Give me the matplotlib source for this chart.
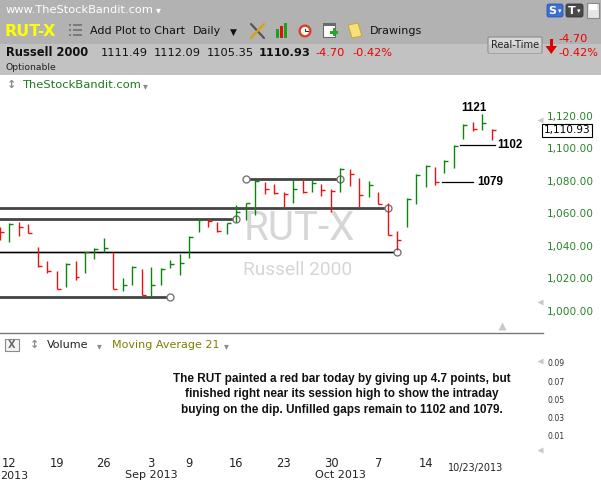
import numpy as np
import pandas as pd
import matplotlib
matplotlib.use("Agg")
import matplotlib.pyplot as plt
from matplotlib.patches import Rectangle, Polygon, Circle, FancyBboxPatch

plt.rcParams['font.family'] = ['DejaVu Sans']

# ---------------- data ----------------
trade_dates = pd.bdate_range("2013-08-09", "2013-10-23")
trade_dates = trade_dates[trade_dates != pd.Timestamp("2013-09-02")]  # Labor Day

highs = [1051.7, 1053.8, 1054.8, 1053.2, 1039.4, 1030.6, 1024.4, 1029.2, 1030.6, 1036.3,
         1038.4, 1044.6, 1035.9, 1020.0, 1027.5, 1025.5, 1026.7, 1026.1, 1031.2, 1034.9,
         1046.0, 1056.2, 1056.2, 1054.8, 1054.2, 1065.0, 1066.5, 1080.4, 1079.4, 1078.0,
         1072.9, 1080.9, 1080.9, 1080.9, 1078.0, 1074.7, 1087.6, 1087.0, 1081.5, 1080.0,
         1073.2, 1066.1, 1049.2, 1069.2, 1084.1, 1089.5, 1088.2, 1092.7, 1102.0, 1114.9,
         1116.3, 1121.0, 1112.09]
lows = [1043.5, 1042.5, 1046.0, 1047.6, 1027.1, 1023.4, 1013.2, 1014.4, 1018.9, 1023.4,
        1031.8, 1036.3, 1013.2, 1012.3, 1015.8, 1009.7, 1008.6, 1015.8, 1026.1, 1022.0,
        1032.2, 1048.6, 1051.7, 1048.6, 1047.2, 1054.8, 1055.8, 1058.9, 1071.8, 1071.6,
        1063.6, 1066.5, 1072.2, 1072.9, 1070.6, 1060.9, 1072.9, 1076.7, 1064.0, 1069.8,
        1065.7, 1046.6, 1037.4, 1051.7, 1065.7, 1076.3, 1077.4, 1084.6, 1087.6, 1105.5,
        1110.8, 1111.2, 1105.35]
closes = [1048.4, 1053.6, 1051.7, 1047.8, 1027.3, 1024.4, 1013.4, 1028.7, 1020.9, 1036.0,
          1037.8, 1038.4, 1013.4, 1015.8, 1027.1, 1009.9, 1015.8, 1025.7, 1028.6, 1029.2,
          1045.5, 1055.8, 1055.4, 1048.8, 1053.8, 1060.7, 1066.1, 1080.0, 1074.7, 1072.2,
          1071.8, 1074.7, 1072.9, 1078.4, 1074.0, 1073.6, 1087.2, 1084.1, 1071.2, 1077.4,
          1065.8, 1046.8, 1043.5, 1068.9, 1083.7, 1089.0, 1079.4, 1092.1, 1101.5, 1114.3,
          1111.6, 1115.63, 1110.93]

# drawn support / resistance lines (level, start date or None = chart edge, end date, heavy?)
line_levels = [1063.2, 1056.4, 1036.2, 1008.2, 1080.9]
line_starts = [None, None, None, None, "2013-09-17"]
line_ends = ["2013-10-08", "2013-09-16", "2013-10-09", "2013-09-05", "2013-10-01"]
line_heavy = [True, True, False, True, True]

# unfilled gap lines (level, from bar position, to bar position)
gap_levels = [1079, 1102]
gap_from = [46.74, 48.6]
gap_to = [50.02, 52.3]
gap_label_pos = [50.47, 52.63]
peak_label = "1121"
peak_pos, peak_val = 50.12, 1124.7

price_ticks = [1000, 1020, 1040, 1060, 1080, 1100, 1120]
vol_ticks = [0.01, 0.03, 0.05, 0.07, 0.09]
last_price = 1110.93

note_lines = ["The RUT painted a red bar today by giving up 4.7 points, but",
              "finished right near its session high to show the intraday",
              "buying on the dip. Unfilled gaps remain to 1102 and 1079."]

# ---------------- figure ----------------
W, H = 601, 482
fig = plt.figure(figsize=(W / 100, H / 100), dpi=100)


def frac(x0, y0, x1, y1):
    return [x0 / W, 1 - y1 / H, (x1 - x0) / W, (y1 - y0) / H]


bg = fig.add_axes([0, 0, 1, 1])
bg.set_xlim(0, W)
bg.set_ylim(H, 0)
bg.axis('off')

GREEN = '#0a870a'
RED = '#ee1111'

# ----- header -----
bg.add_patch(Rectangle((0, 0), W, 44, color='#b2b2b2', lw=0))
bg.add_patch(Rectangle((0, 44), W, 31, color='#c2c2c2', lw=0))
bg.text(6, 10, 'www.TheStockBandit.com', color='white', fontsize=8.2, va='center')
bg.text(158, 10.5, '▾', color='white', fontsize=7, va='center', ha='center')
bg.text(5, 31, 'RUT-X', color='#ffff00', fontsize=11.4, fontweight='bold', va='center')
for yy in (25, 30, 35):
    bg.add_patch(Rectangle((69, yy - 1), 2, 2, color='#7a7a7a', lw=0))
    bg.add_patch(Rectangle((73, yy - 1), 9, 2, color='#7a7a7a', lw=0))
bg.text(90, 31, 'Add Plot to Chart', fontsize=8, va='center', color='#111111')
bg.text(193, 31, 'Daily', fontsize=8, va='center', color='#111111')
bg.text(233, 32, '▼', fontsize=6.5, va='center', ha='center', color='#111111')
# tools icon
bg.plot([251, 264], [24, 38], color='#555555', lw=1.6, solid_capstyle='round')
bg.plot([251, 264], [38, 24], color='#d9a400', lw=1.6, solid_capstyle='round')
# bar-chart icon
bg.add_patch(Rectangle((276, 29), 3, 9, color='#1aa31a', lw=0))
bg.add_patch(Rectangle((280, 26), 3, 12, color='#dd1111', lw=0))
bg.add_patch(Rectangle((284, 23), 3, 15, color='#1aa31a', lw=0))
# clock icon
bg.add_patch(Circle((305, 31), 6.5, color='#e23a1a', lw=0))
bg.add_patch(Circle((305, 31), 4.2, color='white', lw=0))
bg.plot([305, 305, 307.5], [28.5, 31, 31], color='#333333', lw=0.8)
# calendar icon
bg.add_patch(Rectangle((323, 23), 12, 14, fc='white', ec='#6a6a6a', lw=0.8))
bg.add_patch(Rectangle((323, 23), 12, 3, color='#6a6a6a', lw=0))
bg.add_patch(Rectangle((330, 31), 8, 2.5, color='#22aa22', lw=0))
bg.add_patch(Rectangle((332.8, 28.2), 2.5, 8, color='#22aa22', lw=0))
# notepad icon
bg.add_patch(Polygon([[348, 25], [358, 23], [362, 36], [352, 38]], closed=True,
                     fc='#f5e07a', ec='#c9a93a', lw=0.8))
bg.text(370, 31, 'Drawings', fontsize=8, va='center', color='#111111')
# right-hand header widgets
bg.add_patch(FancyBboxPatch((547, 4), 16, 13, boxstyle='round,pad=0,rounding_size=2',
                            fc='#3a6fd6', ec='#2a55aa', lw=0.6))
bg.text(552.5, 10.7, 'S', color='white', fontsize=8, fontweight='bold', va='center', ha='center')
bg.text(559.5, 11.5, '▾', color='white', fontsize=5, va='center', ha='center')
bg.add_patch(FancyBboxPatch((566, 4), 17, 13, boxstyle='round,pad=0,rounding_size=2',
                            fc='#4a4a4a', ec='#333333', lw=0.6))
bg.text(572, 10.7, 'T', color='white', fontsize=8, fontweight='bold', va='center', ha='center')
bg.text(579, 11.5, '▾', color='white', fontsize=5, va='center', ha='center')
bg.add_patch(Rectangle((587, 3), 12, 15, fc='#e6e6e6', ec='#8a8a8a', lw=0.8))
bg.add_patch(Rectangle((589, 4), 8, 6, fc='white', ec='none'))

bg.text(6, 52, 'Russell 2000', fontsize=8.3, fontweight='bold', va='center', color='#111111')
bg.text(101, 52.5, '1111.49', fontsize=8.2, va='center', color='#111111')
bg.text(154, 52.5, '1112.09', fontsize=8.2, va='center', color='#111111')
bg.text(206.5, 52.5, '1105.35', fontsize=8.2, va='center', color='#111111')
bg.text(258.5, 52.5, '1110.93', fontsize=8.2, fontweight='bold', va='center', color='#111111')
bg.text(315, 52.5, '-4.70', fontsize=8.2, va='center', color='#ee0000')
bg.text(352, 52.5, '-0.42%', fontsize=8.2, va='center', color='#ee0000')
bg.add_patch(FancyBboxPatch((488, 37), 54, 16, boxstyle='round,pad=0,rounding_size=1.5',
                            fc='#d8d8d8', ec='#8c8c8c', lw=0.8))
bg.add_patch(Rectangle((489, 45), 52, 7.5, fc='#c6c6c6', ec='none'))
bg.text(515, 45, 'Real-Time', fontsize=7.1, va='center', ha='center', color='#222222')
bg.add_patch(Rectangle((549.5, 39), 3.5, 8, color='#dd0000', lw=0))
bg.add_patch(Polygon([[545.5, 46], [557, 46], [551.2, 54]], closed=True, color='#dd0000', lw=0))
bg.text(558.5, 39, '-4.70', fontsize=8.2, va='center', color='#ee0000')
bg.text(558.5, 52.7, '-0.42%', fontsize=8.2, va='center', color='#ee0000')
bg.text(6, 67.5, 'Optionable', fontsize=6.7, va='center', color='#222222')

# ----- main panel chrome -----
bg.text(12, 85, '↕', fontsize=8, va='center', ha='center', color='#8a8a8a', fontweight='bold')
bg.text(23, 85, 'TheStockBandit.com', fontsize=8.25, va='center', color='#1e7b1e')
bg.text(145, 86, '▾', fontsize=7, va='center', ha='center', color='#8a8a8a')
bg.plot([0, 542.7], [333.3, 333.3], color='#777777', lw=1)
for ty in (120, 301.7, 360.7, 450):
    bg.plot(540, ty, marker='<', ms=5, color='#c8c8c8', mec='none')
bg.plot(502, 326, marker='^', ms=5.5, color='#c8c8c8', mec='none')

# volume header
bg.add_patch(Rectangle((5, 339), 14, 12, fc='#f4f4f4', ec='#8a8a8a', lw=0.8))
bg.text(12, 345.3, 'X', fontsize=7, fontweight='bold', va='center', ha='center', color='#6a6a6a')
bg.text(35, 345, '↕', fontsize=8, va='center', ha='center', color='#8a8a8a', fontweight='bold')
bg.text(47, 345, 'Volume', fontsize=8, va='center', color='#222222')
bg.text(99, 346, '▾', fontsize=7, va='center', ha='center', color='#8a8a8a')
bg.text(112, 345, 'Moving Average 21', fontsize=8, va='center', color='#7d7d00')
bg.text(226, 346, '▾', fontsize=7, va='center', ha='center', color='#8a8a8a')

for i, line in enumerate(note_lines):
    bg.text(342, 379 + 15.5 * i, line, ha='center', va='center', fontsize=8.5,
            fontweight='bold', family=['Liberation Sans Narrow', 'Liberation Sans'],
            color='#111111')

bg.text(476, 468.3, '10/23/2013', fontsize=6.9, ha='center', va='center', color='#222222')
bg.text(0.5, 475.7, '2013', fontsize=8, ha='left', va='center', color='#222222')

# ----- price panel -----
x = np.arange(len(closes))
c = np.asarray(closes)
prev = np.r_[np.nan, c[:-1]]
up = c > prev
bar_colors = np.where(up, GREEN, RED)

ax = fig.add_axes(frac(0, 95, 542, 333))
ax.patch.set_alpha(0)
ax.set_xlim(0.017, 57.31)
ax.set_ylim(986.28, 1132.74)
for s in ax.spines.values():
    s.set_visible(False)

ax.text(0.553, 0.441, 'RUT-X', transform=ax.transAxes, fontsize=29, family='Roboto',
        color='#d6d6d6', ha='center', va='center', zorder=0)
ax.text(0.549, 0.265, 'Russell 2000', transform=ax.transAxes, fontsize=13.7, family='Roboto',
        color='#d6d6d6', ha='center', va='center', zorder=0)

for lvl, st, en, heavy in zip(line_levels, line_starts, line_ends, line_heavy):
    x1 = trade_dates.get_loc(pd.Timestamp(en))
    x0 = -1 if st is None else trade_dates.get_loc(pd.Timestamp(st))
    if heavy:
        ax.plot([x0, x1], [lvl, lvl], color='#444444', lw=2.0, zorder=3, solid_capstyle='butt')
    else:
        ax.plot([x0, x1], [lvl, lvl], color='#b4b4b4', lw=1.8, zorder=2.5)
        ax.plot([x0, x1], [lvl, lvl], color='#000000', lw=0.9, zorder=3)
    ends = [x1] if st is None else [x0, x1]
    ax.plot(ends, [lvl] * len(ends), 'o', ms=5, mfc='white', mec='#777777', mew=1.0, zorder=4)

ax.vlines(x, lows, highs, colors=bar_colors, lw=1.0, zorder=5)
ax.hlines(closes, x, x + 0.42, colors=bar_colors, lw=1.0, zorder=5)

for lvl, a, b, lp in zip(gap_levels, gap_from, gap_to, gap_label_pos):
    ax.plot([a, b], [lvl, lvl], color='black', lw=0.9, zorder=3)
    ax.text(lp, lvl, str(lvl), fontsize=8.4, fontweight='bold', family='Liberation Sans',
            va='center', ha='left', color='black')
ax.text(peak_pos, peak_val, peak_label, fontsize=8.4, fontweight='bold', family='Liberation Sans',
        va='center', ha='center', color='black')

ax.set_xticks([])
ax.yaxis.tick_right()
ax.set_yticks(price_ticks)
ax.set_yticklabels([f'{v:,.2f}' for v in price_ticks])
ax.tick_params(axis='y', length=0, pad=3.5, labelsize=7.6, labelcolor='#2a862a')
ax.text(1.0 + 2 / 542, last_price, f'{last_price:,.2f}', transform=ax.get_yaxis_transform(),
        fontsize=7.6, color='black', va='center', ha='left',
        bbox=dict(boxstyle='square,pad=0.15', fc='white', ec='black', lw=0.8))

# ----- volume panel -----
vol = fig.add_axes(frac(0, 340, 542, 455))
vol.patch.set_alpha(0)
vol.set_xlim(ax.get_xlim())
vol.set_ylim(-0.0108, 0.1149)
for s in vol.spines.values():
    s.set_visible(False)
vol.xaxis.remove_overlapping_locs = False
wk = trade_dates.isocalendar().week.values
week_start = [i for i in range(1, len(trade_dates) - 5) if wk[i] != wk[i - 1]]
mon = trade_dates.month.values
month_start = [i for i in range(1, len(trade_dates)) if mon[i] != mon[i - 1]]
vol.set_xticks(week_start)
vol.set_xticklabels([str(trade_dates[i].day) for i in week_start])
vol.set_xticks(month_start, minor=True)
vol.set_xticklabels([trade_dates[i].strftime('%b %Y') for i in month_start], minor=True)
vol.tick_params(axis='x', which='major', length=0, pad=1.5, labelsize=8.3, labelcolor='#222222')
vol.tick_params(axis='x', which='minor', length=0, pad=10.5, labelsize=8, labelcolor='#222222')
vol.yaxis.tick_right()
vol.set_yticks(vol_ticks)
vol.set_yticklabels([f'{v:.2f}' for v in vol_ticks])
vol.tick_params(axis='y', length=0, pad=4, labelsize=5.6, labelcolor='#333333')

fig.savefig('out.png', dpi=100)
